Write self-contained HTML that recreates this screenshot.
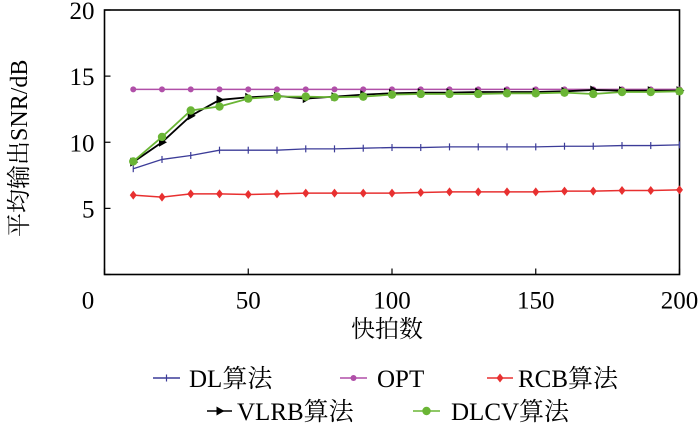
<!DOCTYPE html>
<html><head><meta charset="utf-8"><style>
body{margin:0;background:#fff;}
svg text{font-family:"Liberation Serif","Noto Serif CJK SC",serif;}
</style></head><body>
<svg width="700" height="425" xmlns="http://www.w3.org/2000/svg" id="chart">
<g id="plot"></g>
</svg>
<script>
const xs=[10,20,30,40,50,60,70,80,90,100,110,120,130,140,150,160,170,180,190,200];
const dl=[8.0,8.7,9.0,9.4,9.4,9.4,9.5,9.5,9.55,9.6,9.6,9.65,9.65,9.65,9.65,9.7,9.7,9.75,9.75,9.8];
const opt=[14,14,14,14,14,14,14,14,14,14,14,14,14,14,14,14,14,14,14,14];
const rcb=[6.0,5.85,6.1,6.1,6.05,6.1,6.15,6.15,6.15,6.15,6.2,6.25,6.25,6.25,6.25,6.3,6.3,6.35,6.35,6.4];
const vlrb=[8.5,10.0,12.0,13.2,13.4,13.5,13.3,13.45,13.6,13.7,13.75,13.75,13.8,13.8,13.8,13.85,13.95,13.9,13.9,13.9];
const dlcv=[8.55,10.4,12.4,12.7,13.3,13.45,13.45,13.4,13.45,13.6,13.65,13.65,13.65,13.7,13.7,13.75,13.65,13.8,13.8,13.85];
const xTicks=[0,50,100,150,200];
const yTicks=[0,5,10,15,20];
const L=104.5,R=679.5,T=10,B=274.5;
const sx=v=>L+(v/200)*(R-L);
const sy=v=>B-(v/20)*(B-T);
const NS="http://www.w3.org/2000/svg";
const svg=document.getElementById('chart');
function mk(tag,attrs,parent){const e=document.createElementNS(NS,tag);for(const k in attrs)e.setAttribute(k,attrs[k]);(parent||svg).appendChild(e);return e;}
let fr=mk('rect',{x:L,y:T,width:R-L,height:B-T,fill:'none',stroke:'#000','stroke-width':1.6});


xTicks.forEach(t=>{
 let l=mk('line',{x1:sx(t),x2:sx(t),y1:B,y2:B-6,stroke:'#000','stroke-width':1.2});
 
 
 let cx=t===0?88:sx(t);
 let tx=mk('text',{x:cx,y:B+34,'text-anchor':'middle','font-size':25});
 tx.textContent=t;
 
 
});
yTicks.forEach(t=>{
 let l=mk('line',{x1:L,x2:L+6,y1:sy(t),y2:sy(t),stroke:'#000','stroke-width':1.2});
 
 
 if(t===0)return;
 let tx=mk('text',{x:L-10,y:sy(t)+9,'text-anchor':'end','font-size':25});
 tx.textContent=t;
 
 
});
let xt=mk('text',{x:387,y:337,'text-anchor':'middle','font-size':24});
xt.textContent='快拍数';


let yt=mk('text',{x:0,y:0,'text-anchor':'middle','font-size':24,transform:'translate(27,'+((T+B)/2+6)+') rotate(-90)'});
yt.textContent='平均输出SNR/dB';



function marker(g,type,x,y,c){
 if(type==='plus'){mk('line',{x1:x,x2:x,y1:y-3.5,y2:y+3.5,stroke:c,'stroke-width':1.2},g);}
 else if(type==='dot'){mk('circle',{cx:x,cy:y,r:3,fill:c},g);}
 else if(type==='big'){mk('circle',{cx:x,cy:y,r:4.2,fill:c},g);}
 else if(type==='diamond'){mk('polygon',{points:`${x},${y-4.5} ${x+3.5},${y} ${x},${y+4.5} ${x-3.5},${y}`,fill:c},g);}
 else if(type==='tri'){mk('polygon',{points:`${x-3},${y-4.5} ${x+5},${y} ${x-3},${y+4.5}`,fill:c},g);}
}
const series=[
 {name:'dl',d:dl,c:'#3c3c98',m:'plus',w:1.3},
 {name:'opt',d:opt,c:'#b04fa8',m:'dot',w:1.5},
 {name:'rcb',d:rcb,c:'#e83030',m:'diamond',w:1.5},
 {name:'vlrb',d:vlrb,c:'#000',m:'tri',w:1.8},
 {name:'dlcv',d:dlcv,c:'#6ab535',m:'big',w:1.8}
];
series.forEach(s=>{
 let g=mk('g',{});
 
 
 mk('polyline',{points:xs.map((x,i)=>sx(x)+','+sy(s.d[i])).join(' '),fill:'none',stroke:s.c,'stroke-width':s.w},g);
 xs.forEach((x,i)=>marker(g,s.m,sx(x),sy(s.d[i]),s.c));
});
const leg=[
 {lab:'DL算法',x1:153,x2:180,tx:189,y:378,s:0},
 {lab:'OPT',x1:340,x2:367,tx:377,y:378,s:1},
 {lab:'RCB算法',x1:487,x2:513,tx:518,y:378,s:2},
 {lab:'VLRB算法',x1:207,x2:232,tx:237,y:411,s:3},
 {lab:'DLCV算法',x1:413,x2:440,tx:451,y:411,s:4}
];
leg.forEach(e=>{
 const s=series[e.s];
 let g=mk('g',{});
 
 
 mk('line',{x1:e.x1,x2:e.x2,y1:e.y,y2:e.y,stroke:s.c,'stroke-width':1.6},g);
 marker(g,s.m,(e.x1+e.x2)/2,e.y,s.c);
 let t=mk('text',{x:e.tx,y:e.y+9,'font-size':25},g);
 t.textContent=e.lab;
});
</script>
</body></html>
